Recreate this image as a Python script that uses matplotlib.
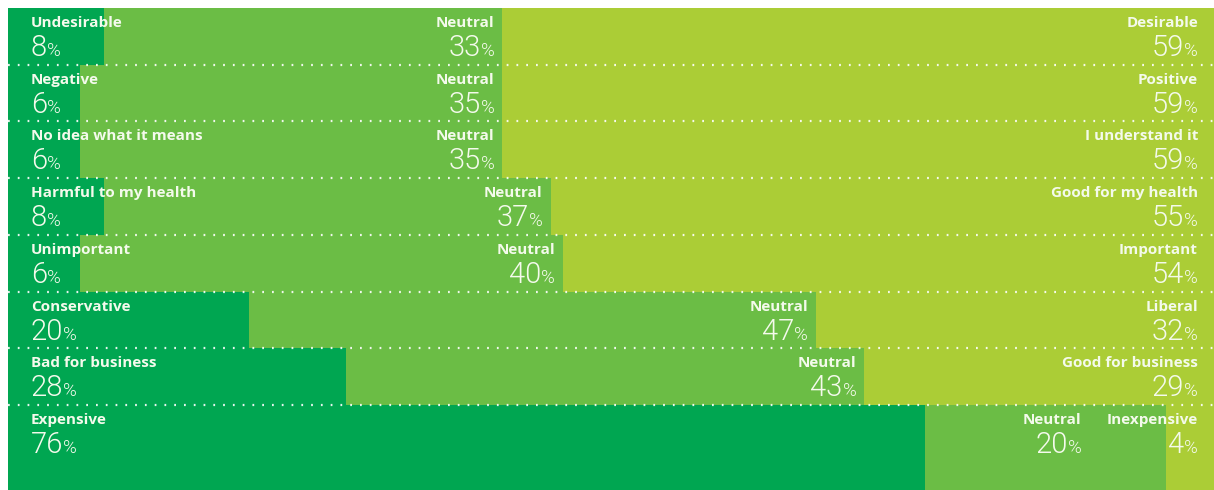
import numpy as np
import matplotlib.pyplot as plt

# survey answers, one row per pair of opposite answers
left_labels = ['Undesirable', 'Negative', 'No idea what it means', 'Harmful to my health',
               'Unimportant', 'Conservative', 'Bad for business', 'Expensive']
right_labels = ['Desirable', 'Positive', 'I understand it', 'Good for my health',
                'Important', 'Liberal', 'Good for business', 'Inexpensive']
neg = [8, 6, 6, 8, 6, 20, 28, 76]
neutral = [33, 35, 35, 37, 40, 47, 43, 20]
pos = [59, 59, 59, 55, 54, 32, 29, 4]

c_neg = '#00a651'
c_neu = '#6bbd45'
c_pos = '#abcd36'
txt = '#f4faec'

W, H = 1214, 490
fig = plt.figure(figsize=(W / 100, H / 100), dpi=100)
ax = fig.add_axes([8 / W, 0, 1 - 8 / W, 1 - 8 / H])

n = len(neg)
# last row runs down to the bottom edge
centers = np.arange(n, dtype=float)
heights = np.ones(n)
centers[-1] = n - 1 + 0.25
heights[-1] = 1.5
neg_a = np.array(neg)
neu_a = np.array(neutral)
# light band behind each row, so rounding gaps don't show
ax.barh(centers, 100, height=heights, color=c_pos, linewidth=0)
ax.barh(centers, neg_a, height=heights, color=c_neg, linewidth=0)
ax.barh(centers, neu_a, left=neg_a, height=heights, color=c_neu, linewidth=0)
ax.barh(centers, pos, left=neg_a + neu_a, height=heights, color=c_pos, linewidth=0)

ax.set_xlim(0, 100)
ax.set_ylim(n + 0.0, -0.5)
ax.axis('off')

# dotted separators between rows
ax.hlines(np.arange(n - 1) + 0.5, 0, 100, colors='white', alpha=0.9,
          linewidth=1.6, linestyles=[(0, (0.8, 3.6))])

px = 0.72  # points per pixel
row_px = 482 / (n + 0.5)
lab_dy = 8 / row_px
num_dy = 48 / row_px
lab_kw = dict(color=txt, fontsize=11, fontweight='bold', family=['Open Sans', 'DejaVu Sans'])
num_kw = dict(color=txt, fontsize=21, fontweight=300, family=['Roboto', 'DejaVu Sans'])
pct_kw = dict(color=txt, fontsize=13.5, fontweight=300, family=['Roboto', 'DejaVu Sans'])


def block(xref, xv, y0, dx, ha, label, value):
    lab = ax.annotate(label, xy=(xv, y0 + lab_dy), xycoords=(xref, 'data'),
                      xytext=(dx * px, 0), textcoords='offset points',
                      ha=ha, va='top', **lab_kw)
    yb = y0 + num_dy
    if ha == 'left':
        num = ax.annotate(str(value), xy=(xv, yb), xycoords=(xref, 'data'),
                          xytext=(dx * px, 0), textcoords='offset points',
                          ha='left', va='baseline', **num_kw)
        ax.annotate('%', xy=(1, yb), xycoords=(num, 'data'), xytext=(0, 0),
                    textcoords='offset points', ha='left', va='baseline', **pct_kw)
    else:
        pct = ax.annotate('%', xy=(xv, yb), xycoords=(xref, 'data'),
                          xytext=(dx * px, 0), textcoords='offset points',
                          ha='right', va='baseline', **pct_kw)
        ax.annotate(str(value), xy=(0, yb), xycoords=(pct, 'data'), xytext=(0, 0),
                    textcoords='offset points', ha='right', va='baseline', **num_kw)
    return lab


for i in range(n):
    top = i - 0.5
    block('data', 0, top, 23, 'left', left_labels[i], neg[i])
    rlab = block('data', 100, top, -16, 'right', right_labels[i], pos[i])
    if pos[i] < 10:
        # not enough room: put neutral just left of the right-hand label
        block(rlab, 0, top, -25, 'right', 'Neutral', neutral[i])
    else:
        block('data', neg[i] + neutral[i], top, -8, 'right', 'Neutral', neutral[i])

fig.savefig('out.png', dpi=100, facecolor='white')
